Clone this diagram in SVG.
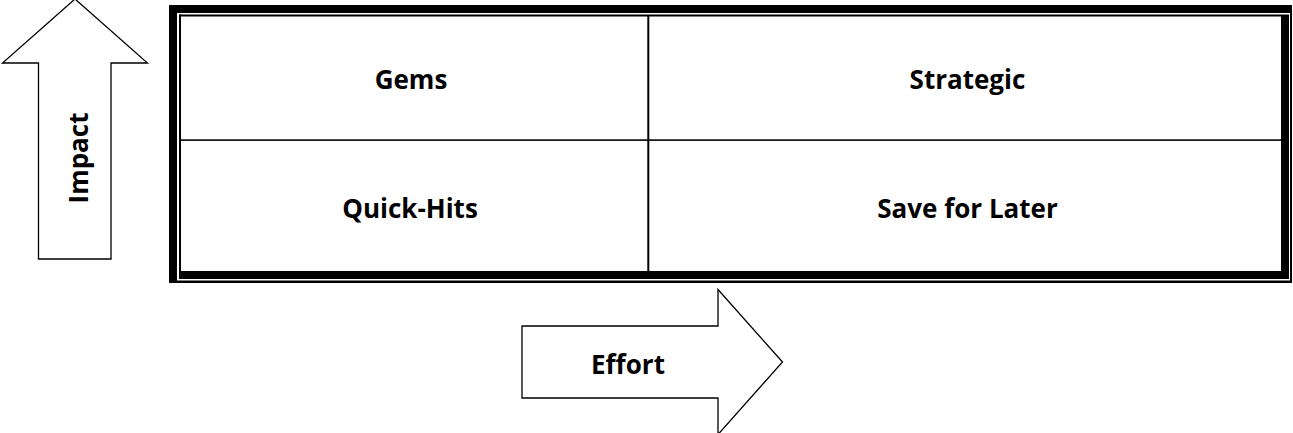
<svg xmlns="http://www.w3.org/2000/svg" width="1293" height="433" viewBox="0 0 1293 433">
<style>
.lbl{font-family:"Open Sans","Liberation Sans",sans-serif;font-weight:bold;font-size:26px;fill:#000;text-anchor:middle}
.arrow{fill:#fff;stroke:#000;stroke-width:1.3}
.bar{fill:#000}
</style>
<rect width="1293" height="433" fill="#fff"/>
<g id="matrix">
<rect class="bar" x="169" y="5" width="1123" height="8"/>
<rect class="bar" x="169" y="5" width="8" height="278"/>
<rect class="bar" x="179" y="14.5" width="1102" height="2"/>
<rect class="bar" x="179" y="14.5" width="2" height="257"/>
<rect class="bar" x="179" y="271" width="1110" height="8"/>
<rect class="bar" x="1281" y="14.5" width="8" height="264.5"/>
<rect class="bar" x="1290" y="5" width="2" height="278"/>
<rect class="bar" x="169" y="280.5" width="1123" height="2.5"/>
<rect class="bar" x="647.3" y="16" width="2" height="255"/>
<rect class="bar" x="181" y="139.3" width="1100" height="1.6"/>
</g>
<g id="gems"><text class="lbl" x="411" y="89">Gems</text></g>
<g id="strategic"><text class="lbl" x="967.5" y="89">Strategic</text></g>
<g id="quick-hits"><text class="lbl" x="410" y="217.5">Quick-Hits</text></g>
<g id="save-for-later"><text class="lbl" x="967.5" y="217.5">Save for Later</text></g>
<g id="impact-arrow">
<polygon class="arrow" points="75,-1 2.5,63 38.5,63 38.5,259 111,259 111,63 147.5,63"/>
<text class="lbl" transform="translate(88,158) rotate(-90)" x="0" y="0">Impact</text>
</g>
<g id="effort-arrow">
<polygon class="arrow" points="522,326 718,326 718,289.5 782.5,362 718,434.5 718,398 522,398"/>
<text class="lbl" x="628" y="374">Effort</text>
</g>
<g id="connectors"></g>
</svg>
